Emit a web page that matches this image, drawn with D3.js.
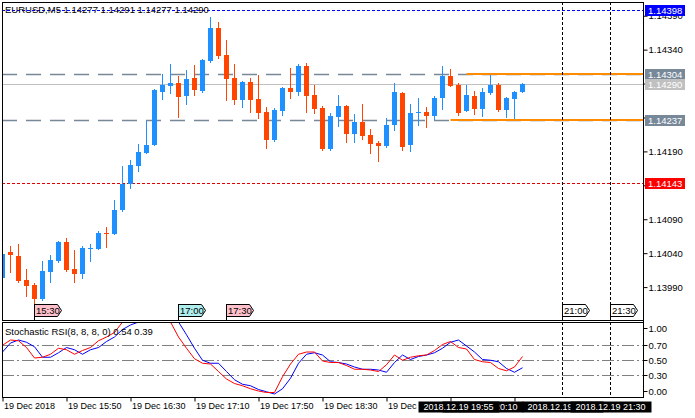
<!DOCTYPE html>
<html>
<head>
<meta charset="utf-8">
<script src="https://cdn.jsdelivr.net/npm/d3@7"></script>
<style>
  html, body { margin: 0; padding: 0; background: #fff; }
  svg { display: block; font-family: "Liberation Sans", Arial, sans-serif; font-size: 9.5px; }
</style>
</head>
<body>
<svg id="chart" width="695" height="418"></svg>
<script>
// ==== data ====
const mainTitle = 'EURUSD,M5  1.14277 1.14291 1.14277 1.14290';
const indTitle  = 'Stochastic RSI(8, 8, 8, 0) 0.54 0.39';

const firstBar = new Date(2018, 11, 19, 15, 10);   // M5 bars, one every 5 minutes

const open  = [1.14004,1.14041,1.14036,1.14000,1.13993,1.13972,1.14012,1.14028,1.14056,1.14017,
               1.14009,1.14047,1.14046,1.14070,1.14068,1.14104,1.14142,1.14169,1.14188,1.14200,
               1.14278,1.14286,1.14291,1.14272,1.14298,1.14279,1.14323,1.14372,1.14332,1.14298,
               1.14266,1.14292,1.14267,1.14248,1.14207,1.14250,1.14283,1.14278,1.14316,1.14273,
               1.14254,1.14194,1.14241,1.14257,1.14216,1.14233,1.14214,1.14202,1.14198,1.14229,
               1.14276,1.14200,1.14247,1.14248,1.14242,1.14269,1.14301,1.14288,1.14250,1.14272,
               1.14253,1.14276,1.14288,1.14251,1.14267,1.14277];
const high  = [1.14042,1.14051,1.14054,1.14017,1.13996,1.14028,1.14037,1.14058,1.14062,1.14045,
               1.14051,1.14054,1.14073,1.14079,1.14118,1.14169,1.14177,1.14201,1.14235,1.14282,
               1.14304,1.14319,1.14301,1.14310,1.14317,1.14326,1.14388,1.14381,1.14354,1.14319,
               1.14294,1.14298,1.14303,1.14256,1.14254,1.14285,1.14313,1.14319,1.14320,1.14288,
               1.14257,1.14247,1.14273,1.14258,1.14245,1.14260,1.14223,1.14205,1.14239,1.14291,
               1.14277,1.14260,1.14269,1.14256,1.14272,1.14316,1.14312,1.14291,1.14288,1.14279,
               1.14284,1.14303,1.14291,1.14270,1.14279,1.14291];
const low   = [1.14002,1.14012,1.13998,1.13977,1.13967,1.13971,1.13998,1.14027,1.14014,1.13997,
               1.14003,1.14028,1.14046,1.14049,1.14068,1.14102,1.14136,1.14161,1.14187,1.14199,
               1.14267,1.14276,1.14241,1.14260,1.14273,1.14278,1.14322,1.14328,1.14266,1.14260,
               1.14256,1.14248,1.14239,1.14195,1.14205,1.14244,1.14269,1.14273,1.14248,1.14247,
               1.14192,1.14192,1.14228,1.14204,1.14204,1.14208,1.14188,1.14176,1.14196,1.14222,
               1.14192,1.14191,1.14229,1.14226,1.14238,1.14253,1.14286,1.14244,1.14249,1.14245,
               1.14242,1.14275,1.14250,1.14241,1.14239,1.14277];
const close = [1.14039,1.14038,1.13999,1.13992,1.13972,1.14014,1.14030,1.14056,1.14015,1.14009,
               1.14048,1.14048,1.14070,1.14069,1.14104,1.14142,1.14170,1.14189,1.14200,1.14281,
               1.14288,1.14291,1.14270,1.14297,1.14281,1.14325,1.14372,1.14331,1.14297,1.14266,
               1.14293,1.14266,1.14247,1.14207,1.14251,1.14283,1.14278,1.14316,1.14272,1.14253,
               1.14194,1.14242,1.14257,1.14216,1.14233,1.14213,1.14201,1.14198,1.14229,1.14278,
               1.14197,1.14247,1.14248,1.14242,1.14269,1.14301,1.14286,1.14247,1.14273,1.14253,
               1.14278,1.14288,1.14251,1.14269,1.14278,1.14290];

// Stochastic RSI: main (red) and signal (blue)
const stochMain   = [0.69,0.76,0.75,0.66,0.52,0.53,0.57,0.65,0.63,0.57,0.62,0.66,0.75,0.80,0.86,1.00,1.00,
                     1.00,1.00,1.00,1.00,1.00,0.80,0.65,0.51,0.45,0.44,0.34,0.24,0.18,0.15,0.11,0.08,0.06,
                     0.06,0.27,0.44,0.57,0.60,0.60,0.48,0.46,0.46,0.42,0.37,0.37,0.36,0.34,0.43,0.56,0.49,
                     0.53,0.55,0.56,0.62,0.70,0.74,0.66,0.64,0.50,0.47,0.46,0.38,0.35,0.40,0.54];
const stochSignal = [0.60,0.72,0.76,0.73,0.67,0.53,0.53,0.59,0.66,0.63,0.57,0.63,0.66,0.74,0.80,0.90,0.96,
                     1.00,1.00,1.00,1.00,1.00,1.00,0.83,0.65,0.49,0.45,0.45,0.34,0.23,0.17,0.15,0.10,0.07,
                     0.04,0.11,0.25,0.45,0.57,0.59,0.56,0.47,0.46,0.44,0.40,0.37,0.37,0.36,0.33,0.46,0.56,
                     0.50,0.54,0.56,0.59,0.65,0.73,0.76,0.68,0.60,0.50,0.49,0.47,0.38,0.33,0.39];

const priceTicks = [1.13990,1.14040,1.14090,1.14140,1.14190,1.14240,1.14290,1.14340,1.14390];
// these tick labels sit under the price tags, only the tick mark is left
const coveredPrices = [1.14140, 1.14240, 1.14290];
const stochTicks = [0, 0.3, 0.5, 0.7, 1];
const stochLevels = [0.3, 0.5, 0.7];
// the last two ticks sit under the black object tags, so their text is not shown
const timeTicks = ['15:10','15:50','16:30','17:10','17:50','18:30','19:10','19:50','20:30'];
const hiddenTicks = ['19:50', '20:30'];

const grayLevels   = [1.14304, 1.14237];
const orangeLevels = [{ price: 1.14304, from: '20:00' }, { price: 1.14237, from: '19:50' }];
const bidPrice = 1.14290;
const blueLevel = 1.14398;
const redLevel  = 1.14143;
const priceTags = [
  { v: 1.14398, fill: '#0000ff' },
  { v: 1.14304, fill: '#778899' },
  { v: 1.14290, fill: '#c0c0c0' },
  { v: 1.14237, fill: '#778899' },
  { v: 1.14143, fill: '#ff0000' }
];
const vLines = ['21:00', '21:30'];
const timeMarks = [
  { t: '15:30', fill: '#ffc0cb' }, { t: '17:00', fill: '#afeeee' }, { t: '17:30', fill: '#ffc0cb' },
  { t: '21:00', fill: '#ffffff' }, { t: '21:30', fill: '#ffffff' }
];
const axisTags = ['20:10', '19:55', '21:00', '21:30'];

// ==== layout ====
const L = 2, R = 643, mTop = 2, mBot = 320, iTop = 322, iBot = 397;
const tm = s => { const [h, m] = s.split(':').map(Number); return new Date(2018, 11, 19, h, m); };
const barTimes = open.map((_, i) => d3.timeMinute.offset(firstBar, 5 * i));

const svg = d3.select('#chart');

const x = d3.scaleTime()
  .domain([barTimes[0], barTimes[barTimes.length - 1]])
  .range([2.5, 2.5 + 8 * (barTimes.length - 1)]);
const y = d3.scaleLinear().domain([1.139415, 1.144102]).range([mBot, mTop]);
const yi = d3.scaleLinear().domain([0, 1]).range([iBot, iTop]);
const ry = v => Math.round(y(v));

const defs = svg.append('defs');
defs.append('clipPath').attr('id', 'clipMain')
  .append('rect').attr('x', L + 1).attr('y', mTop + 1).attr('width', R - L - 1).attr('height', mBot - mTop - 1);
defs.append('clipPath').attr('id', 'clipInd')
  .append('rect').attr('x', L + 1).attr('y', iTop).attr('width', R - L - 1).attr('height', iBot - iTop);

// ---- main window lines ----
const gm = svg.append('g').attr('clip-path', 'url(#clipMain)');

gm.selectAll('line.gray').data(grayLevels).join('line')
  .attr('x1', L).attr('x2', R)
  .attr('y1', d => ry(d) + 0.5).attr('y2', d => ry(d) + 0.5)
  .attr('stroke', '#778899').attr('stroke-width', 1.5).attr('stroke-dasharray', '15,9');

gm.append('line')
  .attr('x1', L).attr('x2', R).attr('y1', ry(bidPrice) + 0.5).attr('y2', ry(bidPrice) + 0.5)
  .attr('stroke', '#c0c0c0');

gm.append('line')
  .attr('x1', L).attr('x2', R).attr('y1', ry(blueLevel) + 0.5).attr('y2', ry(blueLevel) + 0.5)
  .attr('stroke', '#0000ff').attr('stroke-dasharray', '3,2');
gm.append('line')
  .attr('x1', L).attr('x2', R).attr('y1', ry(redLevel) + 0.5).attr('y2', ry(redLevel) + 0.5)
  .attr('stroke', '#e00000').attr('stroke-dasharray', '3,2');

gm.selectAll('line.orange').data(orangeLevels).join('line')
  .attr('x1', d => x(tm(d.from))).attr('x2', R)
  .attr('y1', d => ry(d.price)).attr('y2', d => ry(d.price))
  .attr('stroke', '#ff8c00').attr('stroke-width', 2);

// ---- candles ----
const bull = '#1e90ff', bear = '#ff4500';
const candles = gm.selectAll('g.c').data(open.map((o, i) => i)).join('g');
candles.append('line')
  .attr('x1', i => x(barTimes[i])).attr('x2', i => x(barTimes[i]))
  .attr('y1', i => ry(high[i])).attr('y2', i => ry(low[i]) + 1)
  .attr('stroke', i => close[i] >= open[i] ? bull : bear);
candles.append('rect')
  .attr('x', i => x(barTimes[i]) - 2.5).attr('width', 5)
  .attr('y', i => ry(Math.max(open[i], close[i])))
  .attr('height', i => Math.max(1, ry(Math.min(open[i], close[i])) - ry(Math.max(open[i], close[i]))))
  .attr('fill', i => close[i] >= open[i] ? bull : bear);

// ---- indicator window ----
const gi = svg.append('g').attr('clip-path', 'url(#clipInd)');
gi.selectAll('line.lvl').data(stochLevels).join('line')
  .attr('x1', L).attr('x2', R)
  .attr('y1', d => Math.round(yi(d)) + 0.5).attr('y2', d => Math.round(yi(d)) + 0.5)
  .attr('stroke', '#808080').attr('stroke-dasharray', '12,3,2,3');

const lineGen = d3.line().x((d, i) => x(barTimes[i])).y(d => yi(d));
gi.append('path').datum(stochSignal).attr('d', lineGen)
  .attr('fill', 'none').attr('stroke', '#0000ff').attr('stroke-width', 1);
gi.append('path').datum(stochMain).attr('d', lineGen)
  .attr('fill', 'none').attr('stroke', '#ff0000').attr('stroke-width', 1);

// ---- vertical dashed lines ----
svg.selectAll('line.v').data(vLines).join('line')
  .attr('x1', d => x(tm(d))).attr('x2', d => x(tm(d)))
  .attr('y1', mTop).attr('y2', iBot)
  .attr('stroke', '#000').attr('stroke-dasharray', '3,2');

// ---- frames ----
svg.append('rect').attr('x', L + 0.5).attr('y', mTop + 0.5).attr('width', R - L).attr('height', mBot - mTop)
  .attr('fill', 'none').attr('stroke', '#000');
svg.append('rect').attr('x', L + 0.5).attr('y', iTop + 0.5).attr('width', R - L).attr('height', iBot - iTop)
  .attr('fill', 'none').attr('stroke', '#000');

// ---- time marks inside main window ----
const marks = svg.selectAll('g.mark').data(timeMarks).join('g')
  .attr('transform', d => `translate(${x(tm(d.t))},0)`);
marks.append('path')
  .attr('d', 'M0,304.5H23L27,310.5L23,316.5H0Z')
  .attr('fill', d => d.fill).attr('stroke', '#000');
marks.append('line').attr('x1', 0).attr('x2', 0).attr('y1', 304).attr('y2', mBot).attr('stroke', '#000');
marks.append('text').attr('x', 1.5).attr('y', 314).text(d => d.t);

// ---- titles ----
svg.append('text').attr('x', 5).attr('y', 13).text(mainTitle);
svg.append('text').attr('x', 5).attr('y', 335).text(indTitle);

// ---- price axis ----
const f5 = d3.format('.5f');
const pAxis = svg.append('g').attr('transform', `translate(${R + 0.5},0)`)
  .call(d3.axisRight(y).tickValues(priceTicks).tickSize(4).tickPadding(1)
    .tickFormat(d => coveredPrices.includes(d) ? '' : f5(d)));
pAxis.select('.domain').remove();
pAxis.attr('font-size', 9.5).attr('font-family', null);
svg.append('line').attr('x1', R + 0.5).attr('x2', R + 0.5).attr('y1', mTop).attr('y2', iBot).attr('stroke', '#000');

const tags = svg.selectAll('g.tag').data(priceTags).join('g')
  .attr('transform', d => `translate(${R + 2},${ry(d.v)})`);
tags.append('rect').attr('x', 0).attr('y', -5).attr('width', 40).attr('height', 11).attr('fill', d => d.fill);
tags.append('text').attr('x', 3).attr('y', 3.5).attr('fill', '#fff').text(d => f5(d.v));

// ---- stochastic axis ----
const clampY = v => Math.min(Math.max(Math.round(yi(v)), iTop + 6), iBot - 6);
const sAxis = svg.append('g').attr('transform', `translate(${R + 0.5},0)`)
  .call(d3.axisRight(yi).tickValues(stochTicks).tickSize(4).tickPadding(1).tickFormat(d3.format('.2f')));
sAxis.select('.domain').remove();
sAxis.attr('font-size', 9.5).attr('font-family', null);
sAxis.selectAll('.tick').attr('transform', d => `translate(0,${clampY(d) + 0.5})`);

// ---- time axis ----
const fmtTick = d3.timeFormat('%d %b %H:%M');
const fmtHM = d3.timeFormat('%H:%M');
const tAxis = svg.append('g').attr('transform', `translate(0,${iBot + 0.5})`)
  .call(d3.axisBottom(x).tickValues(timeTicks.map(tm)).tickSize(4).tickPadding(1)
    .tickFormat((d, i) => i === 0 ? '19 Dec 2018' : hiddenTicks.includes(fmtHM(d)) ? '' : fmtTick(d)));
tAxis.select('.domain').remove();
tAxis.attr('font-size', 9).attr('font-family', null);
tAxis.selectAll('text').attr('text-anchor', 'start').attr('x', 1).attr('y', 5).attr('dy', '0.71em');

// ---- black time tags on the axis ----
const fmtTag = d3.timeFormat('%Y.%m.%d %H:%M');
const atags = svg.selectAll('g.atag').data(axisTags).join('g')
  .attr('transform', d => `translate(${x(tm(d))},0)`);
atags.append('rect').attr('x', -40).attr('y', 401.5).attr('width', 81).attr('height', 11).attr('fill', '#000');
atags.append('text').attr('x', 0).attr('y', 410).attr('text-anchor', 'middle').attr('fill', '#fff')
  .attr('font-size', 9).text(d => fmtTag(tm(d)));
</script>
</body>
</html>
